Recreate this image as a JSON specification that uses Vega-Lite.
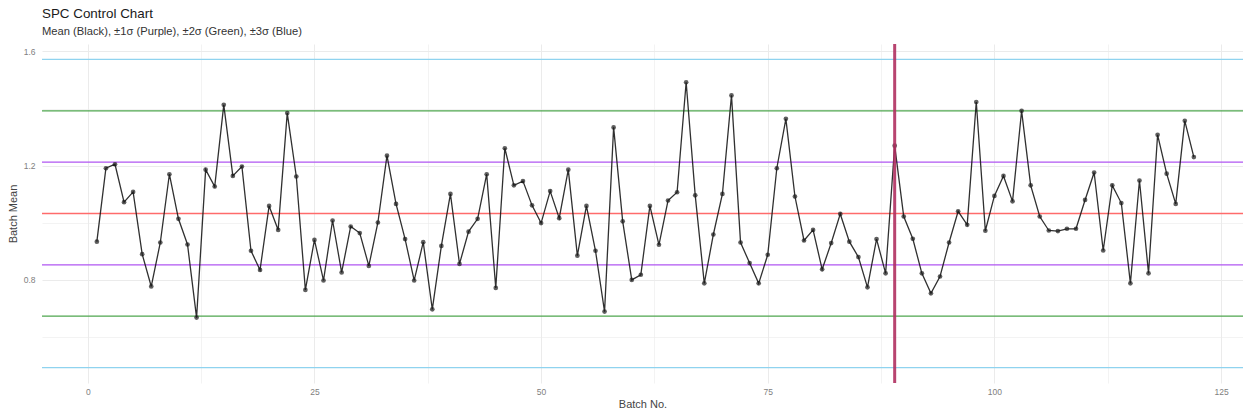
{
  "$schema": "https://vega.github.io/schema/vega-lite/v6.json",
  "autosize": {"type": "none"},
  "padding": {"left": 42, "top": 44, "right": 0, "bottom": 32},
  "width": 1201,
  "height": 339,
  "background": "white",
  "config": {
    "font": "Liberation Sans",
    "view": {"stroke": null},
    "axis": {
      "domain": false,
      "ticks": false,
      "labelFont": "Liberation Sans",
      "labelFontSize": 8.5,
      "labelColor": "#808080",
      "titleFont": "Liberation Sans",
      "titleFontSize": 11,
      "titleFontWeight": "normal",
      "titleColor": "#444444",
      "gridColor": "#EBEBEB"
    }
  },
  "title": {
    "text": "SPC Control Chart",
    "subtitle": "Mean (Black), ±1σ (Purple), ±2σ (Green), ±3σ (Blue)",
    "anchor": "start",
    "frame": "group",
    "font": "Liberation Sans",
    "fontSize": 13.4,
    "fontWeight": "normal",
    "color": "#1a1a1a",
    "subtitleFont": "Liberation Sans",
    "subtitleFontSize": 11.2,
    "subtitleColor": "#333333",
    "subtitlePadding": 6,
    "offset": 5
  },
  "datasets": {
    "batches": [
      {"batch": 1, "mean": 0.934}, {"batch": 2, "mean": 1.191}, {"batch": 3, "mean": 1.205}, {"batch": 4, "mean": 1.072},
      {"batch": 5, "mean": 1.108}, {"batch": 6, "mean": 0.890}, {"batch": 7, "mean": 0.777}, {"batch": 8, "mean": 0.931},
      {"batch": 9, "mean": 1.170}, {"batch": 10, "mean": 1.014}, {"batch": 11, "mean": 0.924}, {"batch": 12, "mean": 0.668},
      {"batch": 13, "mean": 1.186}, {"batch": 14, "mean": 1.127}, {"batch": 15, "mean": 1.413}, {"batch": 16, "mean": 1.164},
      {"batch": 17, "mean": 1.197}, {"batch": 18, "mean": 0.902}, {"batch": 19, "mean": 0.835}, {"batch": 20, "mean": 1.059},
      {"batch": 21, "mean": 0.975}, {"batch": 22, "mean": 1.384}, {"batch": 23, "mean": 1.162}, {"batch": 24, "mean": 0.765},
      {"batch": 25, "mean": 0.940}, {"batch": 26, "mean": 0.798}, {"batch": 27, "mean": 1.008}, {"batch": 28, "mean": 0.826},
      {"batch": 29, "mean": 0.987}, {"batch": 30, "mean": 0.964}, {"batch": 31, "mean": 0.849}, {"batch": 32, "mean": 1.001},
      {"batch": 33, "mean": 1.235}, {"batch": 34, "mean": 1.066}, {"batch": 35, "mean": 0.943}, {"batch": 36, "mean": 0.798},
      {"batch": 37, "mean": 0.932}, {"batch": 38, "mean": 0.697}, {"batch": 39, "mean": 0.919}, {"batch": 40, "mean": 1.101},
      {"batch": 41, "mean": 0.856}, {"batch": 42, "mean": 0.969}, {"batch": 43, "mean": 1.014}, {"batch": 44, "mean": 1.170},
      {"batch": 45, "mean": 0.772}, {"batch": 46, "mean": 1.261}, {"batch": 47, "mean": 1.131}, {"batch": 48, "mean": 1.146},
      {"batch": 49, "mean": 1.061}, {"batch": 50, "mean": 0.999}, {"batch": 51, "mean": 1.111}, {"batch": 52, "mean": 1.016},
      {"batch": 53, "mean": 1.186}, {"batch": 54, "mean": 0.885}, {"batch": 55, "mean": 1.059}, {"batch": 56, "mean": 0.902},
      {"batch": 57, "mean": 0.689}, {"batch": 58, "mean": 1.334}, {"batch": 59, "mean": 1.005}, {"batch": 60, "mean": 0.800},
      {"batch": 61, "mean": 0.818}, {"batch": 62, "mean": 1.059}, {"batch": 63, "mean": 0.923}, {"batch": 64, "mean": 1.078},
      {"batch": 65, "mean": 1.107}, {"batch": 66, "mean": 1.492}, {"batch": 67, "mean": 1.096}, {"batch": 68, "mean": 0.788},
      {"batch": 69, "mean": 0.959}, {"batch": 70, "mean": 1.101}, {"batch": 71, "mean": 1.446}, {"batch": 72, "mean": 0.931},
      {"batch": 73, "mean": 0.859}, {"batch": 74, "mean": 0.788}, {"batch": 75, "mean": 0.888}, {"batch": 76, "mean": 1.191},
      {"batch": 77, "mean": 1.364}, {"batch": 78, "mean": 1.092}, {"batch": 79, "mean": 0.938}, {"batch": 80, "mean": 0.975},
      {"batch": 81, "mean": 0.837}, {"batch": 82, "mean": 0.929}, {"batch": 83, "mean": 1.031}, {"batch": 84, "mean": 0.934},
      {"batch": 85, "mean": 0.880}, {"batch": 86, "mean": 0.774}, {"batch": 87, "mean": 0.943}, {"batch": 88, "mean": 0.823},
      {"batch": 89, "mean": 1.270}, {"batch": 90, "mean": 1.022}, {"batch": 91, "mean": 0.944}, {"batch": 92, "mean": 0.823},
      {"batch": 93, "mean": 0.753}, {"batch": 94, "mean": 0.812}, {"batch": 95, "mean": 0.931}, {"batch": 96, "mean": 1.040},
      {"batch": 97, "mean": 0.993}, {"batch": 98, "mean": 1.423}, {"batch": 99, "mean": 0.972}, {"batch": 100, "mean": 1.094},
      {"batch": 101, "mean": 1.164}, {"batch": 102, "mean": 1.075}, {"batch": 103, "mean": 1.392}, {"batch": 104, "mean": 1.131},
      {"batch": 105, "mean": 1.022}, {"batch": 106, "mean": 0.973}, {"batch": 107, "mean": 0.971}, {"batch": 108, "mean": 0.979},
      {"batch": 109, "mean": 0.979}, {"batch": 110, "mean": 1.080}, {"batch": 111, "mean": 1.176}, {"batch": 112, "mean": 0.903},
      {"batch": 113, "mean": 1.131}, {"batch": 114, "mean": 1.069}, {"batch": 115, "mean": 0.788}, {"batch": 116, "mean": 1.148},
      {"batch": 117, "mean": 0.823}, {"batch": 118, "mean": 1.308}, {"batch": 119, "mean": 1.172}, {"batch": 120, "mean": 1.066},
      {"batch": 121, "mean": 1.357}, {"batch": 122, "mean": 1.230}
    ],
    "limits": [
      {"level": "+3σ", "value": 1.572},
      {"level": "+2σ", "value": 1.392},
      {"level": "+1σ", "value": 1.2124},
      {"level": "Mean", "value": 1.0325},
      {"level": "-1σ", "value": 0.8526},
      {"level": "-2σ", "value": 0.673},
      {"level": "-3σ", "value": 0.493}
    ],
    "marker": [{"batch": 89}]
  },
  "layer": [
    {
      "data": {"name": "limits"},
      "mark": {"type": "rule", "strokeWidth": 1.4},
      "encoding": {
        "y": {
          "field": "value",
          "type": "quantitative",
          "title": "Batch Mean",
          "scale": {"domain": [0.439, 1.626], "nice": false, "zero": false},
          "axis": {
            "values": [0.6, 0.8, 1.0, 1.2, 1.4, 1.6],
            "labelExpr": "(datum.value === 0.8 || datum.value === 1.2 || datum.value === 1.6) ? format(datum.value, '.1f') : ''",
            "gridWidth": {"condition": {"test": "datum.value === 0.8 || datum.value === 1.2 || datum.value === 1.6", "value": 1}, "value": 0.6},
            "labelPadding": 7,
            "titlePadding": 5
          }
        },
        "color": {
          "field": "level",
          "type": "nominal",
          "legend": null,
          "scale": {
            "domain": ["+3σ", "+2σ", "+1σ", "Mean", "-1σ", "-2σ", "-3σ"],
            "range": ["#8fd3ef", "#4ea64e", "#b056f2", "#ff6b6b", "#b056f2", "#4ea64e", "#8fd3ef"]
          }
        }
      }
    },
    {
      "data": {"name": "batches"},
      "mark": {"type": "line", "color": "#1a1a1a", "strokeWidth": 1.3, "opacity": 0.9},
      "encoding": {
        "x": {
          "field": "batch",
          "type": "quantitative",
          "title": "Batch No.",
          "scale": {"domain": [-5.05, 127.42], "nice": false, "zero": false},
          "axis": {
            "values": [0, 12.5, 25, 37.5, 50, 62.5, 75, 87.5, 100, 112.5, 125],
            "labelExpr": "datum.value % 25 === 0 ? datum.label : ''",
            "gridWidth": {"condition": {"test": "datum.value % 25 === 0", "value": 1}, "value": 0.6},
            "labelPadding": 4,
            "titlePadding": 3
          }
        },
        "y": {"field": "mean", "type": "quantitative", "title": "Batch Mean"}
      }
    },
    {
      "data": {"name": "batches"},
      "mark": {"type": "circle", "color": "#1a1a1a", "size": 22, "opacity": 0.7},
      "encoding": {
        "x": {"field": "batch", "type": "quantitative", "title": "Batch No."},
        "y": {"field": "mean", "type": "quantitative", "title": "Batch Mean"}
      }
    },
    {
      "data": {"name": "marker"},
      "mark": {"type": "rule", "color": "#b03060", "strokeWidth": 3, "opacity": 0.9},
      "encoding": {
        "x": {"field": "batch", "type": "quantitative", "title": "Batch No."}
      }
    }
  ]
}
